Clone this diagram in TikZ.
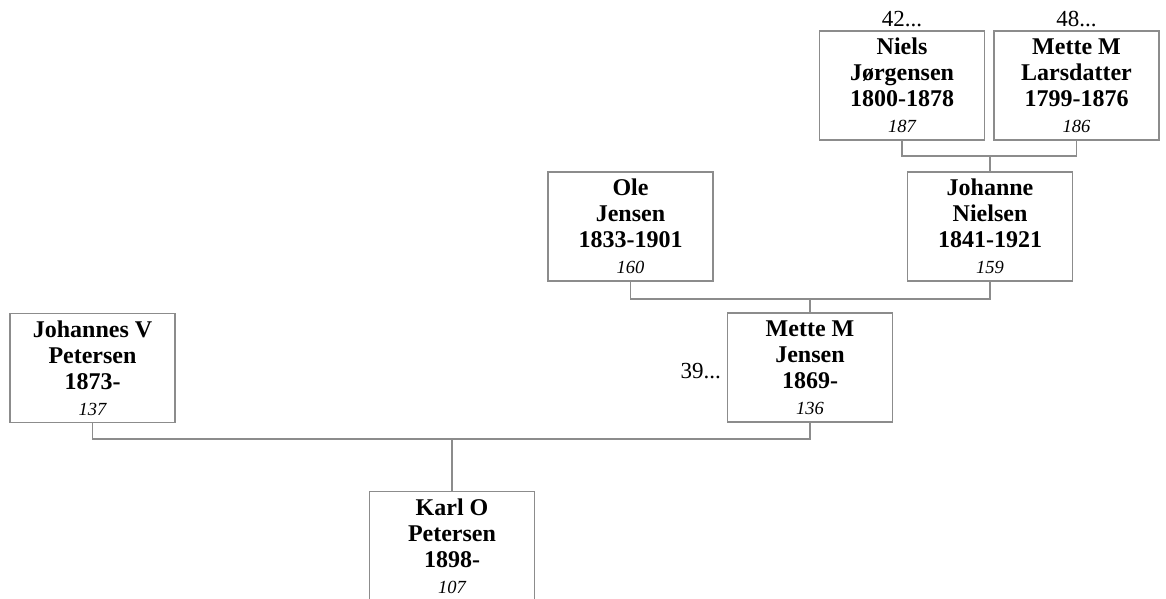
\documentclass[tikz,border=0pt]{standalone}
\usepackage{fontspec}
\setmainfont{Liberation Serif}
\definecolor{linegray}{RGB}{140,140,140}
\newcommand\pnum[1]{{\fontsize{18.5}{26}\selectfont\mdseries\itshape #1}}
\begin{document}
\begin{tikzpicture}[x=1pt,y=-1pt,
  person/.style={draw=linegray, line width=1.2pt, minimum width=165pt, minimum height=109pt,
    inner sep=0pt, align=center, font=\fontsize{24}{26}\selectfont\bfseries, fill=white},
  link/.style={draw=linegray, line width=1.2pt},
  ref/.style={inner sep=0pt, font=\fontsize{23}{26}\selectfont}]
\useasboundingbox[fill=white] (0,0) rectangle (1166,598);

\node[person] (niels) at (902,85.5) {Niels\\Jørgensen\\1800-1878\\\pnum{187}};
\node[person] (lars) at (1076.5,85.5) {Mette M\\Larsdatter\\1799-1876\\\pnum{186}};
\node[person] (johanne) at (990,226.5) {Johanne\\Nielsen\\1841-1921\\\pnum{159}};
\node[person] (ole) at (630.5,226.5) {Ole\\Jensen\\1833-1901\\\pnum{160}};
\node[person] (mette) at (810,367.5) {Mette M\\Jensen\\1869-\\\pnum{136}};
\node[person] (johannes) at (92.5,368) {Johannes V\\Petersen\\1873-\\\pnum{137}};
\node[person] (karl) at (452,546) {Karl O\\Petersen\\1898-\\\pnum{107}};

\node[ref, anchor=base] (l42) at (902,26) {42...};
\node[ref, anchor=base] (l48) at (1076.5,26) {48...};
\node[ref, anchor=base east] (l39) at (721,378) {39...};

\coordinate (j1) at (990,156);
\coordinate (j2) at (810,299);
\coordinate (j3) at (452,439);

\draw[link] (niels.south) |- (j1) -| (lars.south);
\draw[link] (j1) -- (johanne.north);
\draw[link] (ole.south) |- (j2) -| (johanne.south);
\draw[link] (j2) -- (mette.north);
\draw[link] (johannes.south) |- (j3) -| (mette.south);
\draw[link] (j3) -- (karl.north);
\end{tikzpicture}
\end{document}
